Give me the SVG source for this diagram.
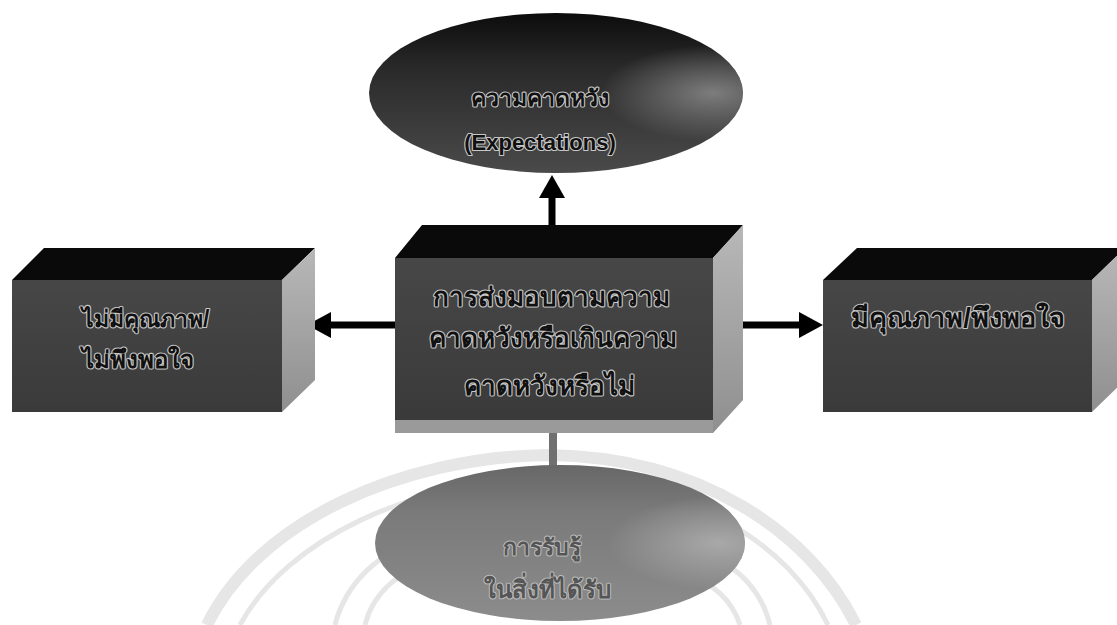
<svg xmlns="http://www.w3.org/2000/svg" width="1117" height="625" viewBox="0 0 1117 625">
  <defs>
    <linearGradient id="gTop" x1="0" y1="0" x2="0" y2="1">
      <stop offset="0" stop-color="#0c0c0c"/>
      <stop offset="0.35" stop-color="#2a2a2a"/>
      <stop offset="1" stop-color="#4a4a4a"/>
    </linearGradient>
    <radialGradient id="gTopHi" cx="0.92" cy="0.5" r="0.3">
      <stop offset="0" stop-color="#8a8a8a" stop-opacity="0.85"/>
      <stop offset="1" stop-color="#8a8a8a" stop-opacity="0"/>
    </radialGradient>
    <linearGradient id="gBot" x1="0" y1="0" x2="0" y2="1">
      <stop offset="0" stop-color="#676767"/>
      <stop offset="0.3" stop-color="#7a7a7a"/>
      <stop offset="1" stop-color="#8c8c8c"/>
    </linearGradient>
    <radialGradient id="gBotHi" cx="0.93" cy="0.5" r="0.3">
      <stop offset="0" stop-color="#b0b0b0" stop-opacity="0.85"/>
      <stop offset="1" stop-color="#b0b0b0" stop-opacity="0"/>
    </radialGradient>
    <linearGradient id="gFront" x1="0" y1="0" x2="0" y2="1">
      <stop offset="0" stop-color="#474747"/>
      <stop offset="1" stop-color="#3a3a3a"/>
    </linearGradient>
    <linearGradient id="gSide" x1="0" y1="0" x2="0" y2="1">
      <stop offset="0" stop-color="#b8b8b8"/>
      <stop offset="1" stop-color="#8f8f8f"/>
    </linearGradient>
  </defs>
  <style>
    .top { fill: #0a0a0a; }
    .front { fill: url(#gFront); }
    .side { fill: url(#gSide); }
    .strip { fill: #9a9a9a; }
    .lbl { font-family: "Liberation Sans", "DejaVu Sans", "Noto Sans", sans-serif; font-weight: bold; fill: #111; stroke: #c8c8c8; stroke-width: 2.2; paint-order: stroke; stroke-linejoin: round; }
    .lblb { font-family: "Liberation Sans", "DejaVu Sans", "Noto Sans", sans-serif; font-weight: bold; fill: #555; stroke: #bdbdbd; stroke-width: 2; paint-order: stroke; stroke-linejoin: round; }
    .wm { fill: none; stroke: #e6e6e6; }
    .ln { stroke: #000; stroke-width: 7; fill: none; }
    .hd { fill: #000; }
  </style>
  <rect width="1117" height="625" fill="#ffffff"/>

  <g id="watermark">
    <path class="wm" stroke-width="12" d="M 207 625 C 257 522 400 457 548 455 C 700 457 810 532 856 625"/>
    <path class="wm" stroke-width="5" d="M 240 625 C 287 538 415 480 548 478 C 690 480 790 545 828 625"/>
    <path class="wm" stroke-width="5" d="M 335 625 C 345 585 380 548 420 545 C 450 543 470 555 480 570"/>
    <path class="wm" stroke-width="5" d="M 365 625 C 372 595 400 568 430 566"/>
    <path class="wm" stroke-width="5" d="M 770 625 C 760 585 730 560 700 555"/>
    <path class="wm" stroke-width="5" d="M 740 625 C 732 600 712 582 690 578"/>
  </g>

  <g id="connectors">
    <line class="ln" x1="552" y1="226" x2="552" y2="195"/>
    <polygon class="hd" points="539,198 552,175 565,198"/>
    <line class="ln" x1="396" y1="325" x2="328" y2="325"/>
    <polygon class="hd" points="331,312 307,325 331,338"/>
    <line class="ln" x1="733" y1="325" x2="802" y2="325"/>
    <polygon class="hd" points="799,312 823,325 799,338"/>
    <rect x="549" y="433" width="8" height="34" fill="#707070"/>
  </g>

  <g id="expectations">
    <ellipse cx="556" cy="93" rx="187" ry="80" fill="url(#gTop)"/>
    <ellipse cx="556" cy="93" rx="187" ry="80" fill="url(#gTopHi)"/>
    <text class="lbl" x="540" y="106" font-size="23" text-anchor="middle">ความคาดหวัง</text>
    <text class="lbl" x="540" y="150" font-size="22" text-anchor="middle">(Expectations)</text>
  </g>

  <g id="delivery">
    <polygon class="top" points="395,258 422,225 743,225 713,258"/>
    <polygon class="side" points="713,258 743,225 743,400 713,433"/>
    <rect class="front" x="395" y="258" width="318" height="162"/>
    <rect class="strip" x="395" y="420" width="318" height="13"/>
    <text class="lbl" x="551" y="306" font-size="26" text-anchor="middle">การส่งมอบตามความ</text>
    <text class="lbl" x="553" y="347" font-size="26" text-anchor="middle">คาดหวังหรือเกินความ</text>
    <text class="lbl" x="549" y="395" font-size="26" text-anchor="middle">คาดหวังหรือไม่</text>
  </g>

  <g id="not-satisfied">
    <polygon class="top" points="12,280 44,248 315,248 282,280"/>
    <polygon class="side" points="282,280 315,248 315,380 282,412"/>
    <rect class="front" x="12" y="280" width="270" height="132"/>
    <text class="lbl" x="82" y="327" font-size="23">ไม่มีคุณภาพ/</text>
    <text class="lbl" x="82" y="368" font-size="24">ไม่พึงพอใจ</text>
  </g>

  <g id="satisfied">
    <polygon class="top" points="823,280 857,248 1125,248 1092,280"/>
    <polygon class="side" points="1092,280 1125,248 1125,380 1092,412"/>
    <rect class="front" x="823" y="280" width="269" height="132"/>
    <text class="lbl" x="958" y="327" font-size="27" text-anchor="middle">มีคุณภาพ/พึงพอใจ</text>
  </g>

  <g id="perception">
    <ellipse cx="560" cy="543" rx="185" ry="78" fill="url(#gBot)"/>
    <ellipse cx="560" cy="543" rx="185" ry="78" fill="url(#gBotHi)"/>
    <text class="lblb" x="542" y="555" font-size="23" text-anchor="middle">การรับรู้</text>
    <text class="lblb" x="547" y="598" font-size="24" text-anchor="middle">ในสิ่งที่ได้รับ</text>
  </g>
</svg>
